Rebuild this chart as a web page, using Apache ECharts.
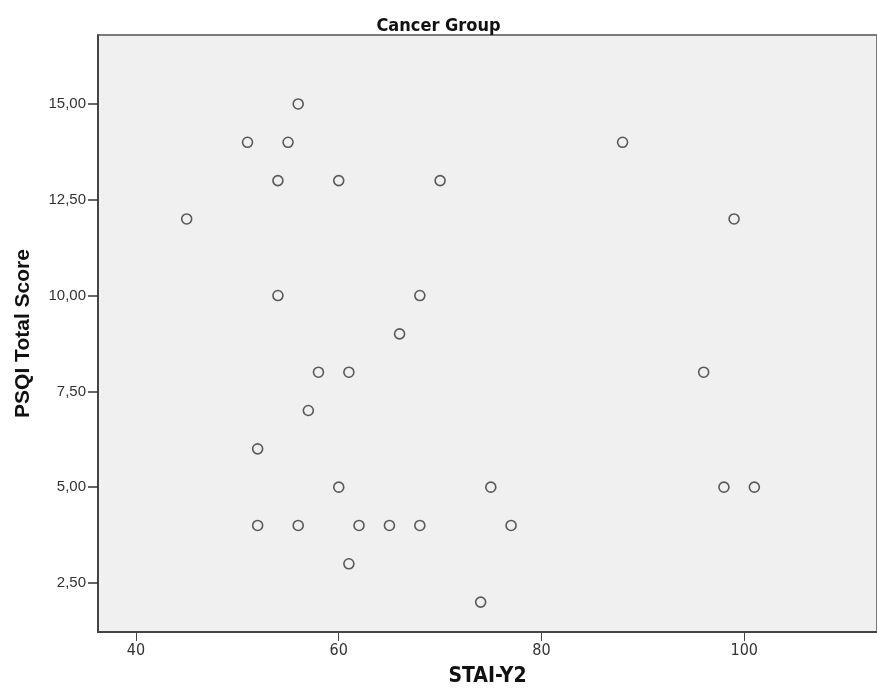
<!DOCTYPE html>
<html>
<head>
<meta charset="utf-8">
<script src="https://cdn.jsdelivr.net/npm/echarts@6/dist/echarts.min.js"></script>
<style>
  html, body { margin: 0; padding: 0; background: #fff; }
  #chart { width: 877px; height: 700px; }
</style>
</head>
<body>
<div id="chart"></div>
<script>
// STAI-Y2 vs PSQI total score, cancer group
const staiY2 = [56, 51, 55, 88, 54, 60, 70, 45, 99, 54, 68, 66, 58, 61, 96, 57, 52, 60, 75, 98, 101, 52, 56, 62, 65, 68, 77, 61, 74];
const psqiTotal = [15, 14, 14, 14, 13, 13, 13, 12, 12, 10, 10, 9, 8, 8, 8, 7, 6, 5, 5, 5, 5, 4, 4, 4, 4, 4, 4, 3, 2];
const xTicks = [40, 60, 80, 100];
const yTicks = [2.5, 5, 7.5, 10, 12.5, 15];

const points = staiY2.map((x, i) => [x, psqiTotal[i]]);

const narrow = '"DejaVu Sans Condensed", "Liberation Sans Narrow", Arial, sans-serif';
const plain = 'Arial, "Liberation Sans", sans-serif';

const chart = echarts.init(document.getElementById('chart'));
chart.setOption({
  backgroundColor: '#ffffff',
  animation: false,
  title: {
    text: 'Cancer Group',
    left: 'center',
    top: 12,
    textStyle: { fontFamily: narrow, fontSize: 18, fontWeight: 'bold', color: '#111' }
  },
  grid: {
    left: 98, top: 35, right: 0, bottom: 68,
    show: true,
    backgroundColor: '#f0f0f0',
    borderColor: '#7a7a7a',
    borderWidth: 2
  },
  xAxis: {
    type: 'value',
    min: 36.25,
    max: 113.1,
    name: 'STAI-Y2',
    nameLocation: 'middle',
    nameGap: 34,
    nameTextStyle: { fontFamily: narrow, fontSize: 21, fontWeight: 'bold', color: '#111' },
    axisLine: { show: true, lineStyle: { color: '#444', width: 2 } },
    axisTick: { show: true, length: 9, customValues: xTicks, lineStyle: { color: '#444', width: 1 } },
    axisLabel: { customValues: xTicks, color: '#333', fontSize: 16, margin: 11, fontFamily: narrow },
    splitLine: { show: false }
  },
  yAxis: {
    type: 'value',
    min: 1.22,
    max: 16.8,
    name: 'PSQI Total Score',
    nameLocation: 'middle',
    nameGap: 64,
    nameRotate: 90,
    nameTextStyle: { fontFamily: plain, fontSize: 21, fontWeight: 'bold', color: '#111' },
    axisLine: { show: true, lineStyle: { color: '#333', width: 1.5 } },
    axisTick: { show: true, length: 10, customValues: yTicks, lineStyle: { color: '#333', width: 1.5 } },
    axisLabel: {
      customValues: yTicks,
      color: '#333', fontSize: 15, margin: 12,
      fontFamily: plain,
      formatter: v => v.toFixed(2).replace('.', ',')
    },
    splitLine: { show: false }
  },
  series: [{
    type: 'scatter',
    data: points,
    symbol: 'circle',
    symbolSize: 10,
    itemStyle: { color: 'rgba(0,0,0,0)', borderColor: '#333', borderWidth: 1.6 }
  }]
});
</script>
</body>
</html>
